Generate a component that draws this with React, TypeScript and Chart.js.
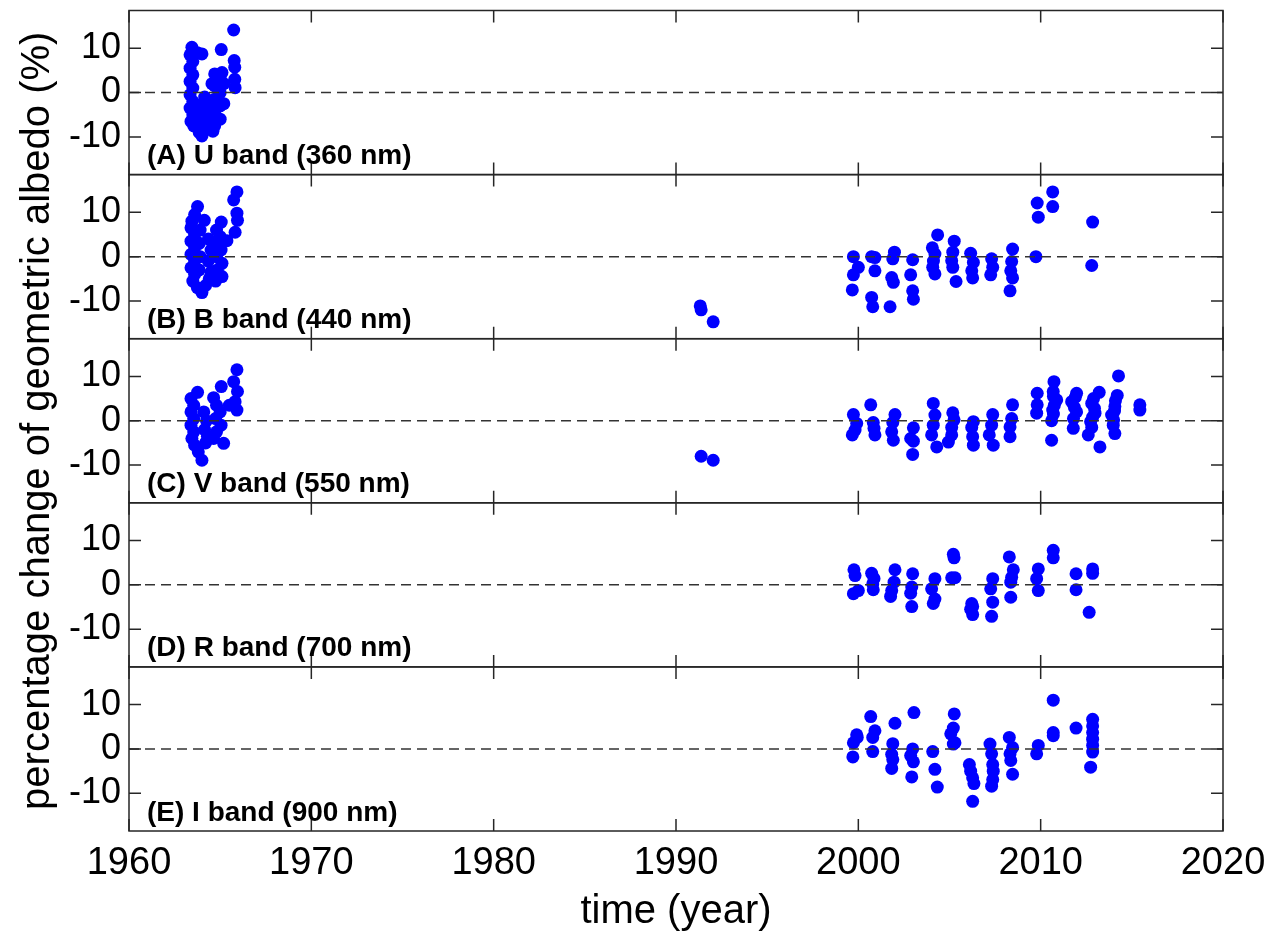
import React, { useEffect, useRef } from 'react';
import { Chart, registerables } from 'chart.js';

Chart.register(...registerables);

const FONT = '"Liberation Sans", Arial, Helvetica, sans-serif';

const X_TICKS = [1960, 1970, 1980, 1990, 2000, 2010, 2020];
const Y_TICKS = [-10, 0, 10];
const Y_LIMIT = 18.5;
const X_TITLE = 'time (year)';
const Y_TITLE = 'percentage change of geometric albedo (%)';
const PANEL_LABELS = [
  '(A) U band (360 nm)',
  '(B) B band (440 nm)',
  '(C) V band (550 nm)',
  '(D) R band (700 nm)',
  '(E) I band (900 nm)',
];

// U band (360 nm)
const uYears = [
  1965.74, 1965.06, 1965.77, 1965.8, 1965.8, 1965.82,
  1963.45, 1963.35, 1963.5, 1963.35, 1963.5, 1963.35, 1963.5, 1963.35, 1963.5, 1963.35, 1963.5, 1963.4, 1963.55,
  1963.75, 1964.0,
  1963.8, 1963.9, 1964.0, 1963.85, 1964.1, 1964.2, 1964.3, 1964.4, 1964.5, 1964.6, 1964.35, 1963.8, 1964.15, 1964.45,
  1964.7, 1965.0, 1964.7, 1965.0, 1964.7, 1965.0, 1964.7, 1965.0, 1964.7, 1965.2, 1965.2, 1964.55, 1965.1,
];
const uValues = [
  14.1, 9.7, 7.2, 5.7, 3.0, 1.1,
  10.2, 8.5, 7.0, 5.5, 4.0, 2.5, 1.0, -0.5, -2.0, -3.5, -5.0, -6.5, -7.5,
  9.0, 8.7,
  -5.0, -7.0, -9.8, -9.0, -8.0, -6.0, -4.0, -7.0, -5.0, -8.7, -2.0, -3.0, -1.0, -3.0,
  4.2, 3.0, 1.5, 0.0, -1.5, -3.0, -4.5, -6.0, -7.5, 2.0, -2.5, 2.0, 4.5,
];

// B band (440 nm)
const bYears = [
  1963.76, 1963.6, 1963.45, 1963.4, 1963.6, 1963.4, 1963.6, 1963.4, 1963.6, 1963.4, 1963.6, 1963.5, 1963.75, 1964.0,
  1964.13, 1963.9, 1963.85, 1963.9, 1963.85,
  1964.35, 1964.5, 1964.35, 1964.5, 1964.4, 1964.2,
  1965.06, 1964.8, 1965.0, 1964.75, 1965.05, 1964.8, 1965.1, 1964.85, 1965.1, 1964.75,
  1965.92, 1965.74, 1965.92, 1965.95, 1965.82, 1965.37,
  1991.33, 1991.38, 1992.04,
  1999.73, 2000.0, 1999.73, 1999.67,
  2000.73, 2000.91, 2000.91, 2000.73, 2000.79,
  2001.98, 2001.89, 2001.83, 2001.92, 2001.74,
  2002.98, 2002.87, 2002.98, 2003.02,
  2004.35, 2004.06, 2004.2, 2004.08, 2004.2, 2004.12,
  2005.26, 2005.18, 2005.12, 2005.18, 2005.36,
  2006.16, 2006.31, 2006.22, 2006.27,
  2007.31, 2007.37, 2007.26,
  2008.46, 2008.41, 2008.36, 2008.46, 2008.32,
  2009.74, 2009.87, 2009.81,
  2010.66, 2010.66,
  2012.85, 2012.8,
];
const bValues = [
  11.3, 9.5, 8.0, 6.5, 5.0, 3.5, 2.0, 0.5, -1.0, -2.5, -4.0, -5.5, -7.0, -8.1,
  8.2, 6.0, 3.0, 0.0, -3.0,
  4.0, 1.5, -1.0, -3.5, -5.0, -6.5,
  7.8, 6.0, 4.5, 3.0, 1.5, 0.0, -1.5, -3.0, -4.5, -5.5,
  14.6, 12.8, 9.8, 8.2, 5.5, 3.6,
  -11.1, -12.0, -14.7,
  0.0, -2.4, -4.1, -7.5,
  0.0, -0.2, -3.2, -9.2, -11.3,
  1.0, -0.5, -4.7, -5.8, -11.3,
  -0.7, -4.1, -7.7, -9.6,
  4.9, 2.0, 0.6, -2.4, -3.9, -1.0,
  3.5, 1.0, -0.9, -2.4, -5.6,
  0.75, -1.3, -3.2, -4.8,
  -0.5, -2.4, -4.1,
  1.7, -1.1, -3.2, -4.8, -7.7,
  0.0, 8.9, 12.1,
  14.6, 11.3,
  7.8, -2.0,
];

// V band (550 nm)
const vYears = [
  1963.76, 1963.4, 1963.55, 1963.4, 1963.55, 1963.4, 1963.55, 1963.45, 1963.6, 1963.8, 1964.0,
  1964.1, 1964.25, 1964.15, 1964.3, 1964.2,
  1964.64, 1965.06, 1964.8, 1965.0, 1964.75, 1965.05, 1964.8, 1965.19, 1964.64,
  1965.92, 1965.74, 1965.95, 1965.82, 1965.92, 1965.5,
  1991.38, 1992.04,
  1999.73, 1999.91, 1999.82, 1999.67,
  2000.68, 2000.82, 2000.86, 2000.91,
  2002.01, 2001.89, 2001.83, 2001.92,
  2003.02, 2002.87, 2003.02, 2002.98,
  2004.11, 2004.2, 2004.11, 2004.02, 2004.3,
  2005.18, 2005.25, 2005.12, 2005.12, 2004.94,
  2006.31, 2006.22, 2006.27, 2006.31,
  2007.37, 2007.31, 2007.18, 2007.4,
  2008.46, 2008.41, 2008.32, 2008.32,
  2009.81, 2009.81, 2009.78,
  2010.73, 2010.69, 2010.88, 2010.66, 2010.6, 2010.6, 2010.7, 2010.75, 2010.7,
  2011.97, 2011.7, 2011.97, 2011.79, 2011.85, 2011.8, 2011.9,
  2013.21, 2012.8, 2012.98, 2012.74, 2012.61, 2013.25, 2012.9, 2012.95, 2012.85, 2012.8,
  2014.27, 2014.2, 2014.07, 2013.89, 2013.98, 2014.07, 2014.1, 2014.05, 2014.0,
  2015.44, 2015.44,
];
const vValues = [
  6.4, 5.0, 3.5, 2.0, 0.5, -1.0, -2.5, -4.0, -5.5, -7.0, -8.9,
  2.0, 0.0, -2.0, -3.5, -5.0,
  5.2, 7.7, 3.5, 2.0, 0.5, -1.0, -2.5, -5.1, -4.0,
  11.5, 8.8, 6.6, 4.3, 2.4, 3.5,
  -8.0, -8.9,
  1.4, -0.6, -2.1, -3.2,
  3.6, -0.4, -1.7, -3.2,
  1.4, -0.4, -2.5, -4.4,
  -1.6, -4.0, -4.6, -7.6,
  3.9, 1.3, -1.0, -3.2, -5.9,
  1.8, 0.2, -1.5, -3.2, -4.8,
  -0.2, -1.5, -3.6, -5.5,
  1.4, -1.0, -3.2, -5.5,
  3.6, 0.5, -1.4, -3.6,
  6.2, 3.6, 1.7,
  8.8, 6.6, 4.7, 2.4, 0.0, -4.4, 5.5, 3.5, 1.5,
  6.2, 4.3, 2.0, -1.7, 3.0, 0.5, 5.3,
  6.4, 3.9, 1.7, -0.2, -3.2, -5.9, 5.0, 2.8, 0.8, -1.5,
  10.1, 5.7, 3.2, 1.3, -1.0, -2.9, 4.5, 2.2, 0.2,
  3.6, 2.4,
];

// R band (700 nm)
const rYears = [
  1999.76, 1999.82, 1999.73, 2000.0,
  2000.73, 2000.86, 2000.79, 2000.82,
  2002.01, 2001.96, 2001.83, 2001.77,
  2002.98, 2002.93, 2002.87, 2002.93,
  2004.2, 2004.02, 2004.2, 2004.11,
  2005.21, 2005.25, 2005.12, 2005.3,
  2006.22, 2006.27, 2006.27, 2006.16,
  2007.37, 2007.26, 2007.37, 2007.31,
  2008.28, 2008.5, 2008.41, 2008.36, 2008.36,
  2009.87, 2009.78, 2009.87,
  2010.69, 2010.69,
  2011.94, 2011.94,
  2012.85, 2012.85, 2012.66,
];
const rValues = [
  3.4, 2.1, -2.0, -1.3,
  2.6, 1.4, 0.2, -1.1,
  3.4, 0.6, -1.3, -2.6,
  2.5, -0.5, -1.9, -4.9,
  1.4, -0.9, -3.2, -4.2,
  6.9, 6.1, 1.6, 1.6,
  -4.2, -4.9, -6.7, -5.5,
  1.4, -0.9, -3.9, -7.1,
  6.3, 3.4, 1.7, 0.6, -2.8,
  3.6, 1.4, -1.3,
  7.8, 6.1,
  2.5, -1.1,
  3.6, 2.6, -6.2,
];

// I band (900 nm)
const iYears = [
  1999.91, 1999.73, 1999.94, 1999.7,
  2000.68, 2000.91, 2000.79, 2000.79,
  2002.01, 2001.89, 2001.83, 2001.89, 2001.83,
  2003.05, 2002.98, 2002.87, 2003.02, 2002.93,
  2004.08, 2004.2, 2004.33,
  2005.26, 2005.21, 2005.07, 2005.3, 2005.21,
  2006.09, 2006.16, 2006.27, 2006.34, 2006.27,
  2007.22, 2007.31, 2007.37, 2007.4, 2007.37, 2007.31,
  2008.28, 2008.46, 2008.32, 2008.36, 2008.46,
  2009.87, 2009.78,
  2010.69, 2010.69, 2010.69,
  2011.94,
  2012.85, 2012.85, 2012.85, 2012.85, 2012.85, 2012.85, 2012.74,
];
const iValues = [
  3.2, 1.4, 2.6, -1.8,
  7.3, 4.1, 2.6, -0.6,
  5.8, 1.2, -1.2, -2.4, -4.4,
  8.2, 0.0, -1.5, -2.9, -6.3,
  -0.6, -4.6, -8.6,
  7.9, 4.7, 3.4, 1.4, 1.1,
  -3.5, -5.0, -6.5, -7.8, -11.8,
  1.1, -1.1, -3.5, -5.0, -6.9, -8.4,
  2.6, 0.3, -1.1, -2.6, -5.7,
  0.8, -1.1,
  11.0, 3.7, 3.0,
  4.7,
  6.7, 5.2, 3.7, 2.2, 0.8, -0.7, -4.1,
];

const BANDS = [
  { years: uYears, values: uValues },
  { years: bYears, values: bValues },
  { years: vYears, values: vValues },
  { years: rYears, values: rValues },
  { years: iYears, values: iValues },
];
// Panels from top to bottom.
const PANEL_IDS = ['yU', 'yB', 'yV', 'yR', 'yI'];

const AXIS_COLOR = '#262626';
const TICK_LEN = 12;

// Draws the boxed frame of each panel, inward ticks, dashed zero lines,
// the band captions and the shared vertical axis title.
const panelFrame = {
  id: 'panelFrame',
  afterDatasetsDraw(chart: any) {
    const { ctx, chartArea } = chart;
    const xs = chart.scales.x;
    const left = chartArea.left;
    const right = chartArea.right;
    ctx.save();
    PANEL_IDS.forEach((id, i) => {
      const s = chart.scales[id];
      const top = s.top;
      const bottom = s.bottom;
      const zero = s.getPixelForValue(0);

      ctx.strokeStyle = '#333333';
      ctx.lineWidth = 1.5;
      ctx.setLineDash([10, 6]);
      ctx.beginPath();
      ctx.moveTo(left, zero);
      ctx.lineTo(right, zero);
      ctx.stroke();
      ctx.setLineDash([]);

      ctx.strokeStyle = AXIS_COLOR;
      ctx.lineWidth = 1.5;
      ctx.strokeRect(left, top, right - left, bottom - top);

      ctx.beginPath();
      X_TICKS.forEach((v) => {
        const px = xs.getPixelForValue(v);
        ctx.moveTo(px, top);
        ctx.lineTo(px, top + TICK_LEN);
        ctx.moveTo(px, bottom);
        ctx.lineTo(px, bottom - TICK_LEN);
      });
      Y_TICKS.forEach((v) => {
        const py = s.getPixelForValue(v);
        ctx.moveTo(left, py);
        ctx.lineTo(left + TICK_LEN, py);
        ctx.moveTo(right, py);
        ctx.lineTo(right - TICK_LEN, py);
      });
      ctx.stroke();

      ctx.fillStyle = '#000000';
      ctx.font = `bold 28px ${FONT}`;
      ctx.textAlign = 'left';
      ctx.textBaseline = 'alphabetic';
      ctx.fillText(PANEL_LABELS[i], left + 18, bottom - 10.5);
    });

    ctx.translate(38, (chartArea.top + chartArea.bottom) / 2);
    ctx.rotate(-Math.PI / 2);
    ctx.font = `40px ${FONT}`;
    ctx.fillStyle = '#000000';
    ctx.textAlign = 'center';
    ctx.textBaseline = 'middle';
    ctx.fillText(Y_TITLE, 0, 0);
    ctx.restore();
  },
};

export default function App() {
  const ref = useRef<HTMLCanvasElement>(null);

  useEffect(() => {
    const canvas = ref.current;
    if (!canvas) return;

    const scales: any = {
      x: {
        type: 'linear',
        position: 'bottom',
        min: 1960,
        max: 2020,
        grid: { display: false, drawTicks: false },
        border: { display: false },
        afterBuildTicks: (s: any) => {
          s.ticks = X_TICKS.map((v) => ({ value: v }));
        },
        afterFit: (s: any) => {
          s.height = 106;
          s.paddingLeft = 0;
          s.paddingRight = 0;
        },
        ticks: {
          autoSkip: false,
          maxRotation: 0,
          padding: 10,
          color: '#000000',
          font: { family: FONT, size: 38 },
          callback: (v: any) => String(v),
        },
        title: {
          display: true,
          text: X_TITLE,
          color: '#000000',
          font: { family: FONT, size: 40 },
          padding: { top: 0, bottom: 1 },
        },
      },
    };
    // Stacked left axes are laid out last-declared on top, so declare bottom-up.
    [...PANEL_IDS].reverse().forEach((id) => {
      scales[id] = {
        type: 'linear',
        position: 'left',
        stack: 'bands',
        stackWeight: 1,
        min: -Y_LIMIT,
        max: Y_LIMIT,
        grid: { display: false, drawTicks: false },
        border: { display: false },
        afterBuildTicks: (s: any) => {
          s.ticks = Y_TICKS.map((v) => ({ value: v }));
        },
        afterFit: (s: any) => {
          s.width = 129;
          s.paddingTop = 0;
          s.paddingBottom = 0;
        },
        ticks: {
          padding: 8,
          color: '#000000',
          font: { family: FONT, size: 36 },
          callback: (v: any) => String(v),
        },
      };
    });

    const chart = new Chart(canvas, {
      type: 'scatter',
      data: {
        datasets: BANDS.map((b, i) => ({
          label: PANEL_LABELS[i],
          data: b.years.map((x, j) => ({ x, y: b.values[j] })),
          xAxisID: 'x',
          yAxisID: PANEL_IDS[i],
          backgroundColor: '#0000ff',
          borderColor: '#0000ff',
          borderWidth: 0,
          pointRadius: 6.5,
          pointHoverRadius: 6.5,
        })),
      },
      options: {
        responsive: false,
        animation: false,
        devicePixelRatio: 1,
        events: [],
        layout: { padding: { left: 0, top: 10.5, right: 53, bottom: 0 } },
        plugins: {
          legend: { display: false },
          tooltip: { enabled: false },
        },
        scales,
      },
      plugins: [panelFrame],
    });

    return () => chart.destroy();
  }, []);

  return (
    <div style={{ position: 'fixed', left: 0, top: 0, width: 1276, height: 937, background: '#ffffff' }}>
      <canvas ref={ref} width={1276} height={937} style={{ display: 'block' }} />
    </div>
  );
}
